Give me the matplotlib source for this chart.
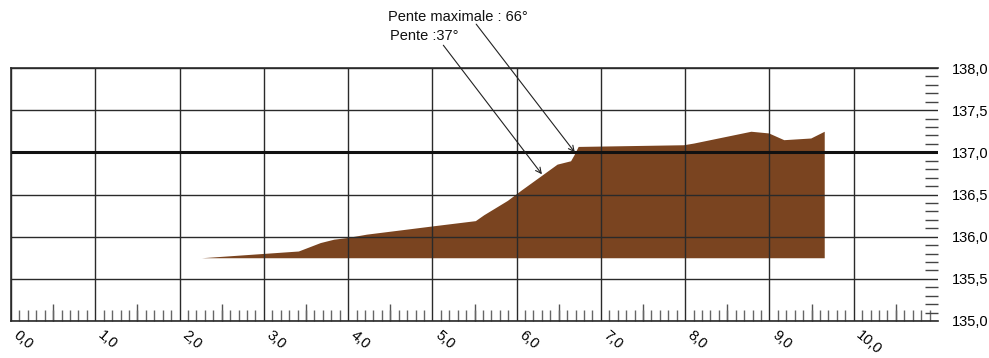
import numpy as np
import matplotlib
matplotlib.use("Agg")
import matplotlib.pyplot as plt

plt.rcParams['font.family'] = ['Liberation Sans', 'DejaVu Sans']

# profil du terrain (distance, altitude)
dist = [2.26, 3.41, 3.67, 3.83, 3.99, 4.22, 5.02, 5.51, 5.61, 5.89, 6.05,
        6.30, 6.48, 6.64, 6.68, 6.73, 7.98, 8.10, 8.78, 8.99, 9.17, 9.49, 9.65]
alt = [135.75, 135.83, 135.93, 135.97, 135.99, 136.03, 136.13, 136.19, 136.26,
       136.43, 136.55, 136.73, 136.86, 136.90, 136.97, 137.07, 137.09, 137.11,
       137.25, 137.23, 137.15, 137.17, 137.25]
base = 135.75

x_ticks = np.arange(0, 11, 1.0)
x_labels = [("%.1f" % v).replace(".", ",") for v in x_ticks]
y_ticks = np.arange(135.0, 138.01, 0.5)
y_labels = [("%.1f" % v).replace(".", ",") for v in y_ticks]

# pentes annotees : (texte, pointe de fleche, depart de fleche)
pente_max = ("Pente maximale : 66°", (6.69, 137.0), (5.52, 138.52))
pente = ("Pente :37°", (6.30, 136.74), (5.13, 138.27))

W, H = 989, 358
fig = plt.figure(figsize=(W / 100, H / 100), dpi=100)
ax = fig.add_axes([11 / W, 1 - 321 / H, (938 - 11) / W, (321 - 68) / H])

ax.fill_between(dist, alt, base, color="#7a4420", lw=0, zorder=1)

ax.set_xlim(0, 11.0)
ax.set_ylim(135.0, 138.0)

line_col = "#2a2a2a"
for s in ["left", "top", "bottom"]:
    ax.spines[s].set_color(line_col)
    ax.spines[s].set_linewidth(1.2)
ax.spines["right"].set_visible(False)

ax.set_xticks(x_ticks)
ax.set_xticklabels(x_labels, rotation=-40, ha="left", va="top",
                   rotation_mode="default", fontsize=10.5)
ax.set_xticks(np.arange(0, 11.0, 0.1), minor=True)
ax.tick_params(axis="x", which="major", length=0, pad=5)
ax.tick_params(axis="x", which="minor", direction="in", length=8,
               width=1, color="#666666")

sec = ax.secondary_xaxis("bottom")
sec.set_xticks(np.arange(0.5, 11.0, 1.0))
sec.tick_params(direction="in", length=12.5, width=1, color="#555555",
                labelbottom=False)
for s in sec.spines.values():
    s.set_visible(False)

ax.yaxis.tick_right()
ax.set_yticks(y_ticks)
ax.set_yticklabels(y_labels, fontsize=10.5)
ax.set_yticks(np.arange(135.0, 138.0, 0.1), minor=True)
ax.tick_params(axis="y", which="major", length=0, pad=10)
ax.tick_params(axis="y", which="minor", direction="in", length=9.5,
               width=1, color="#444444")

ax.grid(True, which="major", color=line_col, lw=1.0)
for v, gl in zip(y_ticks, ax.get_ygridlines()):
    if abs(v - 137.0) < 1e-6:
        gl.set_linewidth(2.2)
        gl.set_color("#111111")

for txt, head, tail in [pente_max, pente]:
    ax.annotate("", xy=head, xytext=tail, annotation_clip=False,
                arrowprops=dict(arrowstyle="->", color="#222222", lw=0.8,
                                shrinkA=0, shrinkB=0))

fig.text(388 / W, 1 - 17 / H, pente_max[0], fontsize=10.5, va="center",
         ha="left", color="#111111")
fig.text(390 / W, 1 - 36 / H, pente[0], fontsize=10.5, va="center",
         ha="left", color="#111111")

fig.savefig("out.png", dpi=100)
